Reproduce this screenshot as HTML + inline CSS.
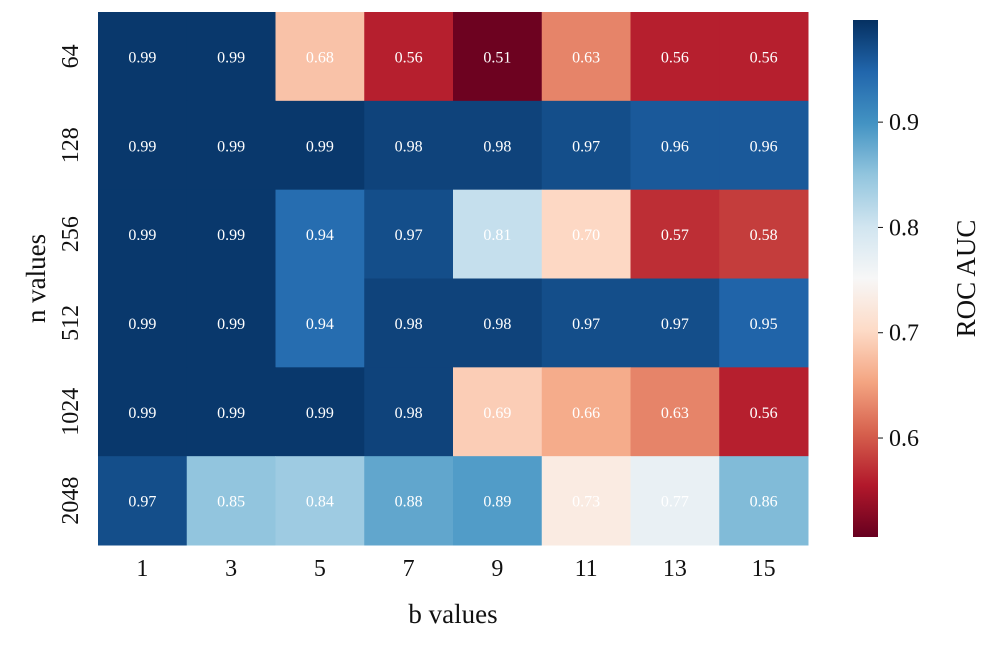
<!DOCTYPE html>
<html><head><meta charset="utf-8"><style>
body{margin:0;background:#fff;}
svg text{font-family:"Liberation Serif","DejaVu Serif",serif;}
</style></head><body>
<svg id="chart" width="997" height="644" xmlns="http://www.w3.org/2000/svg"></svg>
<script>
const bValues=["1","3","5","7","9","11","13","15"];
const nValues=["64","128","256","512","1024","2048"];
const row64=[0.99,0.99,0.68,0.56,0.51,0.63,0.56,0.56];
const row128=[0.99,0.99,0.99,0.98,0.98,0.97,0.96,0.96];
const row256=[0.99,0.99,0.94,0.97,0.81,0.70,0.57,0.58];
const row512=[0.99,0.99,0.94,0.98,0.98,0.97,0.97,0.95];
const row1024=[0.99,0.99,0.99,0.98,0.69,0.66,0.63,0.56];
const row2048=[0.97,0.85,0.84,0.88,0.89,0.73,0.77,0.86];
const rows=[row64,row128,row256,row512,row1024,row2048];
const cbTicks=[0.6,0.7,0.8,0.9];
const vmin=0.506,vmax=0.997;
const stops=["#67001f","#b2182b","#d6604d","#f4a582","#fddbc7","#f7f7f7","#d1e5f0","#92c5de","#4393c3","#2166ac","#053061"];
function hex(h){return [1,3,5].map(i=>parseInt(h.substr(i,2),16));}
function cmap(v){let t=Math.max(0,Math.min(1,(v-vmin)/(vmax-vmin)))*(stops.length-1);
 let i=Math.min(Math.floor(t),stops.length-2),f=t-i,a=hex(stops[i]),b=hex(stops[i+1]);
 return "rgb("+a.map((x,k)=>Math.round(x+(b[k]-x)*f)).join(",")+")";}
const svg=document.getElementById('chart');const NS="http://www.w3.org/2000/svg";
function el(tag,attrs,txt){const e=document.createElementNS(NS,tag);for(const k in attrs)e.setAttribute(k,attrs[k]);if(txt!==undefined)e.textContent=txt;svg.appendChild(e);return e;}
const X0=98,X1=808,Y0=12,Y1=545;
const cw=(X1-X0)/bValues.length,ch=(Y1-Y0)/nValues.length;
const xPos=i=>X0+i*cw, yPos=j=>Y0+j*ch;
rows.forEach((r,j)=>r.forEach((v,i)=>{
 const c=el('rect',{x:xPos(i),y:yPos(j),width:cw+0.5,height:ch+0.5,fill:cmap(v)});
 
 
 const t=el('text',{x:xPos(i)+cw/2,y:yPos(j)+ch/2+6,'text-anchor':'middle','font-size':16,fill:'#fff'},v.toFixed(2));
 
 
}));
bValues.forEach((b,i)=>{
 const t=el('text',{x:xPos(i)+cw/2,y:576,'text-anchor':'middle','font-size':24,fill:'#111'},b);
 
 
});
nValues.forEach((n,j)=>{
 const cy=yPos(j)+ch/2;
 const t=el('text',{x:78,y:cy,'text-anchor':'middle','font-size':24,fill:'#111',transform:'rotate(-90 78 '+cy+')'},n);
 
 
});
let xt=el('text',{x:(X0+X1)/2,y:623,'text-anchor':'middle','font-size':27,fill:'#111'},'b values');

let yt=el('text',{x:45,y:(Y0+Y1)/2,'text-anchor':'middle','font-size':27,fill:'#111',transform:'rotate(-90 45 '+(Y0+Y1)/2+')'},'n values');

// colorbar
const CX=853,CW=25,CT=20,CB=537;
const cy=v=>CB-(v-vmin)/(vmax-vmin)*(CB-CT);
const defs=el('defs',{});const g=document.createElementNS(NS,'linearGradient');
g.setAttribute('id','cbg');g.setAttribute('x1','0');g.setAttribute('y1','1');g.setAttribute('x2','0');g.setAttribute('y2','0');
stops.forEach((s,i)=>{const st=document.createElementNS(NS,'stop');st.setAttribute('offset',i/(stops.length-1));st.setAttribute('stop-color',s);g.appendChild(st);});
defs.appendChild(g);
let cb=el('rect',{x:CX,y:CT,width:CW,height:CB-CT,fill:'url(#cbg)'});

cbTicks.forEach(v=>{
 el('line',{x1:CX+CW,x2:CX+CW+5,y1:cy(v),y2:cy(v),stroke:'#111','stroke-width':1});
 const t=el('text',{x:CX+CW+11,y:cy(v)+8,'font-size':24,fill:'#111'},v.toFixed(1));
 
 
});
let ct=el('text',{x:975,y:(CT+CB)/2,'text-anchor':'middle','font-size':27,fill:'#111',transform:'rotate(-90 975 '+(CT+CB)/2+')'},'ROC AUC');

</script>
</body></html>
